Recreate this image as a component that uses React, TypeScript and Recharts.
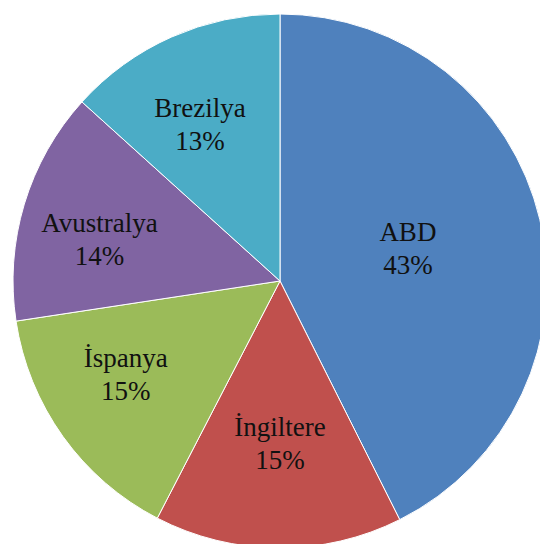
import { Cell, Pie, PieChart } from "recharts";

const countries = ["ABD", "İngiltere", "İspanya", "Avustralya", "Brezilya"];
const shares = [42.6, 15.0, 15.0, 14.1, 13.3];
const colors = ["#4F81BD", "#C0504D", "#9BBB59", "#8064A2", "#4BACC6"];

// small hand nudges so labels sit where the original's "best fit" put them
const LABEL_NUDGE: Record<string, [number, number]> = {
  ABD: [-28, 5],
  "İngiltere": [1, 3],
  "İspanya": [-24, 1],
  Avustralya: [-27, 5],
  Brezilya: [-15, -10],
};

const RADIAN = Math.PI / 180;
const FONT = "Liberation Serif, Tinos, Noto Serif, FreeSerif, Nimbus Roman, Times, DejaVu Serif, serif";

const data = countries.map((name, i) => ({ name, value: shares[i] }));

// eslint-disable-next-line @typescript-eslint/no-explicit-any
function renderLabel(props: any) {
  const { cx, cy, midAngle, outerRadius, name, percent } = props;
  const r = outerRadius * 0.6;
  const [nx, ny] = LABEL_NUDGE[name] ?? [0, 0];
  const x = cx + r * Math.cos(-midAngle * RADIAN) + nx;
  const y = cy + r * Math.sin(-midAngle * RADIAN) + ny;
  return (
    <g key={name}>
      <text x={x} y={y - 8} textAnchor="middle" fontFamily={FONT} fontSize={27} fill="#111">
        {name}
      </text>
      <text x={x} y={y + 25} textAnchor="middle" fontFamily={FONT} fontSize={27} fill="#111">
        {`${Math.round(percent * 100)}%`}
      </text>
    </g>
  );
}

export default function App() {
  return (
    <div
      style={{
        position: "absolute",
        left: 0,
        top: 0,
        width: 540,
        height: 544,
        background: "#fff",
        overflow: "hidden",
        fontFamily: FONT,
      }}
    >
      <PieChart width={540} height={544} margin={{ top: 0, right: 0, bottom: 0, left: 0 }}>
        <Pie
          data={data}
          dataKey="value"
          nameKey="name"
          cx={280}
          cy={281}
          outerRadius={267}
          startAngle={90}
          endAngle={-270}
          stroke="#ffffff"
          strokeWidth={1}
          label={renderLabel}
          labelLine={false}
          isAnimationActive={false}
        >
          {data.map((d, i) => (
            <Cell key={d.name} fill={colors[i]} />
          ))}
        </Pie>
      </PieChart>
    </div>
  );
}
